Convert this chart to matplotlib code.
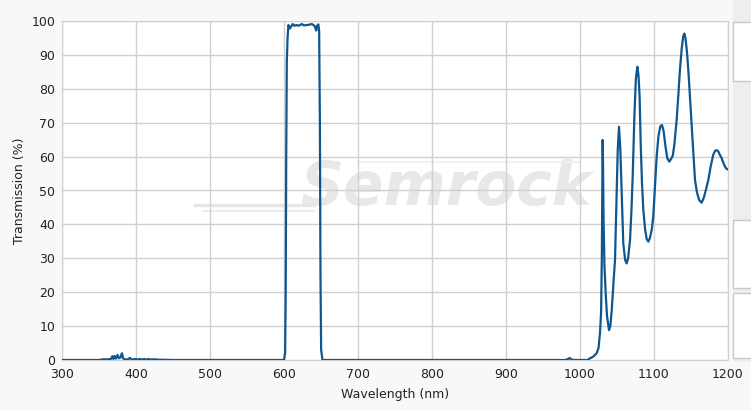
import matplotlib.pyplot as plt
from matplotlib.patches import Rectangle

# UV / blue region (small leakage)
wl_uv = [300, 350, 355, 362, 366, 368, 369.5, 371, 373, 375, 377, 379, 381, 382.5,
         385, 388, 392, 394, 400, 402, 405, 408, 411, 414, 417, 420, 425, 430, 450, 500]
t_uv = [0, 0, 0.2, 0.2, 0.3, 1.1, 0.3, 1.2, 0.4, 1.5, 0.5, 0.8, 2.0, 0.5,
        0.2, 0.1, 0.6, 0.1, 0.3, 0.1, 0.3, 0.1, 0.3, 0.1, 0.3, 0.1, 0.2, 0.1, 0, 0]

# passband
wl_pass = [595, 600, 601.5, 602.3, 603, 603.8, 604.8, 606, 608, 611.7, 614, 617, 620,
           624, 627, 630.6, 634, 637.4, 640, 641.9, 643.5, 644.5, 646.4, 647.5, 648.5,
           649.3, 650.2, 652]
t_pass = [0, 0, 2, 20, 60, 88, 95, 98.8, 97.8, 99.1, 98.6, 98.8, 98.6,
          99.1, 98.7, 98.8, 98.9, 99.1, 98.8, 98.3, 97.2, 98.5, 99.0, 97.0, 70,
          25, 3, 0]

# NIR region
wl_nir = [980, 984, 986, 988, 992, 1010, 1013.5, 1018, 1022.5, 1025, 1027, 1028.5,
          1029.5, 1030.1, 1030.6, 1031.1, 1031.8, 1033, 1034.7, 1036.5, 1039.2, 1041,
          1043, 1045, 1047.3, 1049.5, 1051, 1052.7, 1054.5, 1056.3, 1058.5, 1061,
          1063, 1065, 1067.6, 1069.5, 1071.2, 1073.5, 1075.5, 1077.5, 1079, 1080.5,
          1082, 1083.8, 1085.6, 1088, 1090, 1092.3, 1094.5, 1097, 1099, 1101.5, 1103.6,
          1106, 1108.5, 1110.8, 1113, 1115.5, 1118, 1120.7, 1123, 1125.3, 1127.5,
          1130.6, 1133, 1135, 1137.5, 1139.5, 1141, 1142.5, 1144.5, 1146.4, 1149,
          1151, 1153, 1155.4, 1158, 1161, 1164.4, 1167.5, 1170.5, 1173.4, 1176.5,
          1180, 1182.5, 1184.7, 1187, 1189, 1191.5, 1194, 1196, 1198, 1200]
t_nir = [0, 0.3, 0.6, 0.2, 0, 0, 0.5, 1.0, 2.0, 3.5, 7.9, 14,
         30, 50, 64.9, 58, 42, 28, 19.7, 13, 8.8, 10,
         15, 22, 29.5, 49.2, 62, 68.8, 62, 49.2, 34.4, 29.5,
         28.5, 30, 35.4, 44, 54.1, 72, 83, 86.5, 84, 78,
         64, 52, 44.2, 38.5, 35.8, 34.9, 36, 38.5, 42.3, 52, 60,
         66, 68.9, 69.3, 67.5, 63, 59.5, 58.5, 59.3, 60.2, 63.5,
         70.8, 78.5, 85.5, 92, 95.5, 96.3, 95, 91, 85.5, 76,
         68.8, 61, 53.1, 49.5, 47.2, 46.4, 48, 50.5, 53.1, 57,
         60.5, 61.7, 61.9, 61.5, 60.5, 59.5, 58, 57, 56.4, 56.2]

wavelength = wl_uv + wl_pass + wl_nir
transmission = t_uv + t_pass + t_nir

fig = plt.figure(figsize=(7.51, 4.11), dpi=100)
fig.patch.set_facecolor('#f8f8f8')

# right side panel
fig.patches.append(Rectangle((733 / 751, 0.12), 18 / 751, 0.88, transform=fig.transFigure,
                             facecolor='#eeeeee', edgecolor='none', zorder=0))
for top, bottom in [(22, 81), (220, 288), (293, 358)]:
    fig.patches.append(Rectangle((733 / 751, 1 - bottom / 411), 30 / 751, (bottom - top) / 411,
                                 transform=fig.transFigure, facecolor='white',
                                 edgecolor='#c8c8c8', lw=1, zorder=1))

ax = fig.add_axes([62 / 751, 1 - 360 / 411, 666 / 751, 339 / 411])
ax.set_facecolor('white')

# watermark (below the grid)
ax.text(818, 50.5, 'Semrock', fontsize=43, fontweight='bold', style='italic',
        color='#e8e8e8', ha='center', va='center', zorder=0.2)
ax.plot([480, 640], [45.6, 45.6], color='#e6e6e6', lw=2.5, zorder=0.2)
ax.plot([490, 640], [44.0, 44.0], color='#ececec', lw=1.5, zorder=0.2)
ax.plot([700, 1000], [58.5, 58.5], color='#f0f0f8', lw=1.5, zorder=0.2)

ax.plot(wavelength, transmission, color='#0d5690', lw=1.6, zorder=3)

ax.set_xlim(300, 1200)
ax.set_ylim(0, 100)
ax.set_xticks(range(300, 1201, 100))
ax.set_yticks(range(0, 101, 10))
ax.grid(True, color='#d0d0d0', lw=1)
ax.set_axisbelow(True)
for s in ax.spines.values():
    s.set_color('#d0d0d0')
ax.tick_params(length=0, labelsize=9, colors='#222222')
ax.tick_params(axis='x', pad=6)
ax.tick_params(axis='y', pad=5)

ax.set_xlabel('Wavelength (nm)', fontsize=9, color='#222222', labelpad=5)
ax.set_ylabel('Transmission (%)', fontsize=9, color='#222222', labelpad=4)

fig.savefig('out.png', dpi=100, facecolor=fig.get_facecolor())
